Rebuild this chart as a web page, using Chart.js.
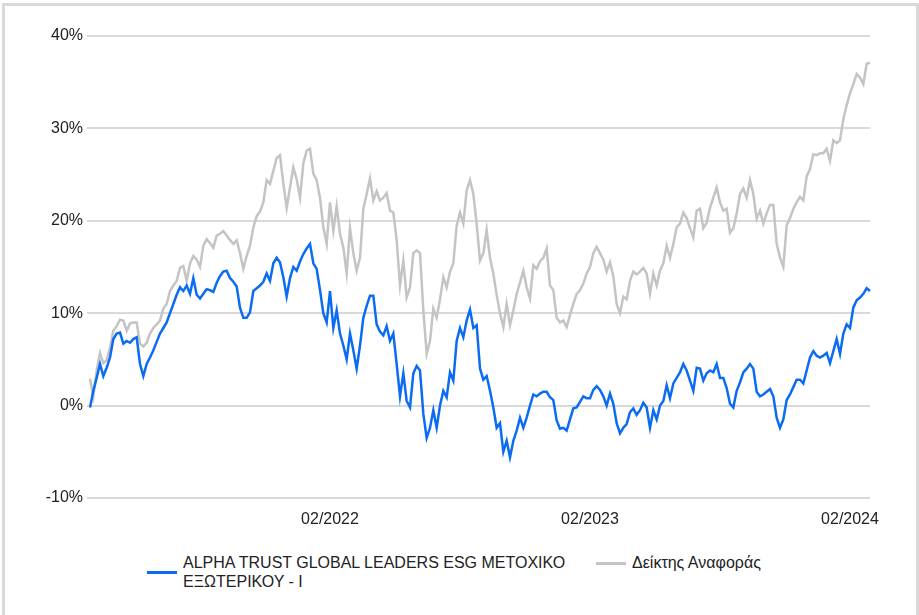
<!DOCTYPE html>
<html>
<head>
<meta charset="utf-8">
<script src="https://cdn.jsdelivr.net/npm/chart.js@4.4.1/dist/chart.umd.min.js"></script>
<style>
  html, body { margin: 0; padding: 0; background: #fff; }
  body { width: 919px; height: 615px; position: relative; overflow: hidden; font-family: "Liberation Sans", Arial, sans-serif; }
  .frame { position: absolute; left: 2px; top: 3px; width: 917px; height: 615px; box-sizing: border-box;
           border: 3px solid #d9d9d9; border-bottom: none; pointer-events: none; }
  .chart-box { position: absolute; left: 0; top: 0; width: 919px; height: 530px; }
  .legend { position: absolute; left: 147px; top: 553px; display: flex; align-items: flex-start; color: #222; font-size: 16px; line-height: 19px; }
  .legend-item { display: flex; align-items: center; margin-right: 23px; }
  .legend-swatch { display: inline-block; width: 30px; height: 3px; margin-right: 6px; flex: none; }
  .legend-name { display: inline-block; }
</style>
</head>
<body>
<div class="chart-box"><canvas id="perfChart" width="919" height="530"></canvas></div>
<div class="legend" id="perfLegend"></div>
<div class="frame"></div>
<script>
  // ===== 数据 =====
  const startDate = "2021-03-03";
  const endDate = "2024-03-01";
  const tickLabels = ["02/2022", "02/2023", "02/2024"];

  const fundName = "ALPHA TRUST GLOBAL LEADERS ESG ΜΕΤΟΧΙΚΟ ΕΞΩΤΕΡΙΚΟΥ - Ι";
  const benchName = "Δείκτης Αναφοράς";

  // fund (%)
  const fundValues = [
    -0.2, 1.6, 3.0, 4.5, 3.2, 4.1, 5.2, 7.2, 7.8, 7.9,
    6.7, 7.0, 6.8, 7.2, 7.4, 4.5, 3.2, 4.5, 5.2, 6.0,
    6.9, 7.8, 8.4, 9.0, 10.0, 11.0, 12.0, 12.8, 12.4, 13.0,
    12.1, 13.8, 12.0, 11.6, 12.1, 12.6, 12.5, 12.3, 13.3, 14.0,
    14.5, 14.6, 13.8, 13.4, 12.9, 10.6, 9.5, 9.5, 10.1, 12.4,
    12.7, 13.0, 13.4, 14.3, 13.5, 15.4, 16.0, 15.5, 13.9, 11.8,
    13.8, 15.0, 14.6, 15.6, 16.4, 17.0, 17.5, 15.4, 14.8, 12.5,
    10.0, 9.0, 12.4, 8.4, 10.3, 7.8, 6.5, 5.0, 7.8, 6.0,
    4.0, 6.5, 9.5, 10.8, 11.9, 11.9, 8.8, 8.0, 7.6, 8.6,
    7.0, 7.8, 4.5, 1.0, 3.5, 0.5, -0.2, 3.5, 4.3, 3.8,
    -0.9, -3.5, -2.4, -0.5, -2.4, 0.0, 1.6, 0.9, 3.6, 2.7,
    7.0, 8.4, 7.4, 9.2, 10.4, 8.4, 8.7, 4.0, 2.8, 3.2,
    1.6, -0.2, -2.4, -1.9, -5.0, -3.8, -5.6, -3.8, -2.7, -1.3,
    -2.4, -1.3, 0.0, 1.2, 1.0, 1.3, 1.5, 1.5, 0.9, 0.6,
    -1.6, -2.5, -2.4, -2.7, -1.5, -0.3, -0.2, 0.4, 1.0, 0.8,
    0.8, 1.7, 2.1, 1.7, 1.0, 0.0, 1.3, 0.2, -1.9, -3.0,
    -2.4, -2.0, -0.7, -0.3, -1.0, -0.5, 0.3, -0.2, -2.4, -0.5,
    -1.5, 0.0, 0.5, 2.2, 0.8, 2.4, 3.0, 3.6, 4.5, 3.8,
    2.7, 1.6, 4.1, 4.0, 2.7, 3.5, 3.8, 3.6, 4.5, 3.0,
    3.0, 1.9, 0.2, -0.2, 1.6, 2.5, 3.6, 4.0, 4.5, 4.0,
    1.5, 1.0, 1.2, 1.5, 1.8, 1.0, -1.3, -2.4, -1.5, 0.6,
    1.2, 2.0, 2.8, 2.8, 2.4, 3.8, 5.2, 5.9, 5.4, 5.2,
    5.4, 5.7, 4.6, 5.9, 7.2, 5.6, 7.8, 8.8, 8.4, 10.6,
    11.4, 11.7, 12.1, 12.7, 12.4
  ];

  // benchmark (%)
  const benchValues = [
    2.9, 1.0, 3.8, 5.7, 4.6, 4.9, 6.3, 8.1, 8.6, 9.3,
    9.2, 8.1, 8.9, 9.0, 9.0, 6.7, 6.4, 6.8, 7.8, 8.4,
    8.8, 9.2, 10.5, 11.0, 12.4, 13.0, 13.5, 14.9, 15.1, 13.5,
    15.4, 16.2, 15.8, 15.0, 17.3, 18.0, 17.6, 17.1, 18.4, 18.6,
    18.9, 18.4, 17.9, 17.5, 17.9, 16.5, 14.8, 16.2, 17.3, 19.3,
    20.5, 21.0, 22.0, 24.4, 24.0, 25.4, 26.8, 27.1, 24.0, 21.4,
    23.6, 25.8, 24.5, 22.5, 26.2, 27.6, 27.8, 25.1, 24.4, 22.5,
    19.3, 17.5, 22.0, 18.9, 21.6, 18.6, 17.1, 14.3, 19.2, 16.5,
    14.6, 16.0, 21.3, 22.9, 24.6, 22.2, 23.2, 22.2, 22.5, 23.0,
    21.1, 20.9, 17.9, 13.0, 15.7, 11.7, 12.8, 16.5, 16.8, 16.5,
    10.3, 5.6, 7.0, 10.5, 9.5, 11.5, 13.9, 12.8, 14.5, 15.4,
    19.5, 20.9, 19.7, 23.3, 24.4, 22.9, 19.7, 15.7, 16.5, 19.0,
    16.0, 14.3, 12.0, 10.0, 8.5, 11.0, 8.7, 10.3, 12.1, 13.3,
    14.6, 12.8, 11.6, 15.2, 14.8, 15.6, 16.0, 17.0, 13.0, 12.5,
    9.5, 9.0, 9.2, 8.5, 9.8, 11.0, 12.1, 12.5, 13.2, 14.3,
    15.0, 16.5, 17.2, 16.5, 15.8, 14.5, 15.5, 14.0, 11.0, 10.0,
    11.8, 11.5, 13.5, 14.5, 14.2, 14.5, 14.9, 14.3, 12.1, 14.3,
    13.0, 14.6, 15.4, 17.3, 16.0, 17.5, 19.3, 19.7, 20.9, 20.3,
    19.2, 18.2, 21.1, 21.3, 19.2, 19.8, 21.4, 22.5, 23.6, 22.0,
    21.1, 21.3, 18.7, 19.2, 20.8, 22.9, 23.5, 22.5, 24.4, 22.9,
    20.2, 21.1, 19.7, 20.8, 21.7, 21.7, 17.5, 16.0, 15.0, 19.5,
    20.3, 21.3, 22.0, 22.6, 22.2, 24.8, 25.6, 27.2, 27.1, 27.3,
    27.3, 27.8, 26.5, 28.7, 28.4, 28.7, 31.0, 32.5, 33.8, 34.8,
    35.9, 35.5, 34.8, 37.0, 37.1
  ];

  const fundColor = "#0b6cf2";
  const benchColor = "#c4c4c4";

  // ===== 日期标签（每个点一个，按起止日期均匀分布）=====
  function buildDateLabels(n) {
    const t0 = new Date(startDate + "T00:00:00Z").getTime();
    const t1 = new Date(endDate + "T00:00:00Z").getTime();
    const out = [];
    for (let i = 0; i < n; i++) {
      const d = new Date(t0 + (t1 - t0) * i / (n - 1));
      const mm = String(d.getUTCMonth() + 1).padStart(2, "0");
      out.push(`${mm}/${d.getUTCFullYear()}`);
    }
    return out;
  }
  const labels = buildDateLabels(fundValues.length);

  const tickFont = { family: "'Liberation Sans', Arial, sans-serif", size: 16 };

  const ctx = document.getElementById("perfChart").getContext("2d");
  const perfChart = new Chart(ctx, {
    type: "line",
    data: {
      labels: labels,
      datasets: [
        { label: fundName, data: fundValues, borderColor: fundColor, backgroundColor: fundColor,
          borderWidth: 2.5, pointRadius: 0, tension: 0 },
        { label: benchName, data: benchValues, borderColor: benchColor, backgroundColor: benchColor,
          borderWidth: 2.5, pointRadius: 0, tension: 0 }
      ]
    },
    options: {
      responsive: false,
      animation: false,
      layout: { padding: { top: 36, right: 49, bottom: 2, left: 0 } },
      plugins: { legend: { display: false }, tooltip: { enabled: false } },
      scales: {
        x: {
          grid: { display: false },
          border: { display: false },
          afterFit: (scale) => { scale.height = 30; },
          ticks: {
            autoSkip: false, maxRotation: 0, minRotation: 0, padding: 4,
            color: "#222", font: tickFont,
            // 只在每年二月的第一个点显示标签
            callback: function (value, index) {
              const lab = labels[index];
              if (!tickLabels.includes(lab)) return "";
              return (index > 0 && labels[index - 1] === lab) ? "" : lab;
            }
          }
        },
        y: {
          min: -10, max: 40,
          afterFit: (scale) => { scale.width = 90; },
          border: { display: false },
          grid: { color: "#d9d9d9", lineWidth: 2, tickLength: 3, drawTicks: true },
          ticks: { stepSize: 10, padding: 4, color: "#222", font: tickFont,
                   callback: (v) => `${v}%` }
        }
      }
    }
  });

  // ===== 自定义图例 =====
  function renderLegend(chart) {
    const legend = document.getElementById("perfLegend");
    legend.innerHTML = chart.data.datasets.map((ds, idx) => `
      <div class="legend-item" style="${idx === 0 ? "align-items:center;" : "align-items:flex-start;"}">
        <span class="legend-swatch" style="background:${ds.borderColor};${idx === 1 ? "margin-top:9px;" : ""}"></span>
        <span class="legend-name" style="${idx === 0 ? "width:390px;" : ""}">${ds.label}</span>
      </div>`).join("");
  }
  renderLegend(perfChart);
</script>
</body>
</html>
